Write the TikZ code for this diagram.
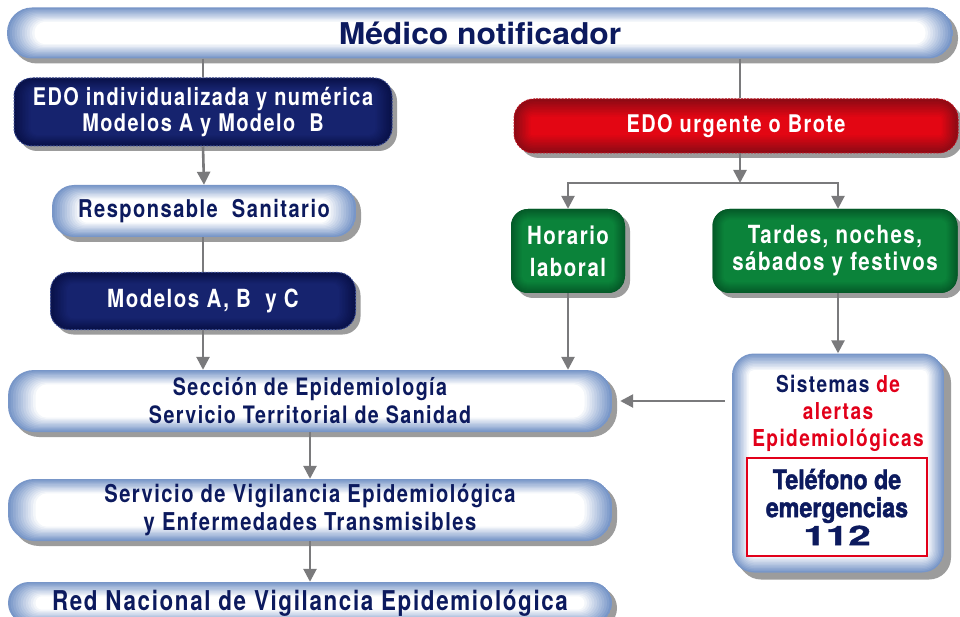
\documentclass[tikz,border=0pt]{standalone}
\usepackage{fontspec}
\usepackage{xcolor}
\setmainfont{TeX Gyre Heros}[FakeStretch=0.82,LetterSpace=6]
\newfontfamily\titlefont{TeX Gyre Heros}[FakeStretch=1.06]
\newfontfamily\heavyfont{TeX Gyre Heros}[FakeStretch=0.86,BoldFeatures={FakeBold=1.6}]
\newfontfamily\widefont{TeX Gyre Heros}[FakeStretch=1.5,BoldFeatures={FakeBold=1.2}]
\usetikzlibrary{arrows.meta,shadows}

\definecolor{navytext}{HTML}{0C1A5E}
\definecolor{navyout}{HTML}{091149}
\definecolor{navyin}{HTML}{16236E}
\definecolor{navyline}{HTML}{3B4C92}
\definecolor{redout}{HTML}{8E0A14}
\definecolor{redin}{HTML}{E30613}
\definecolor{redline}{HTML}{B8101E}
\definecolor{greenout}{HTML}{045A28}
\definecolor{greenin}{HTML}{0B833A}
\definecolor{paleblue}{HTML}{7896C8}
\definecolor{arrowgray}{HTML}{7A7A7C}
\definecolor{shadowgray}{HTML}{9C9C9C}
\definecolor{alertred}{HTML}{E2001A}

\newcommand\sz[2]{\fontsize{#1}{#2}\selectfont}

\tikzset{
  banded/.style n args={5}{path picture={
      \foreach \k in {0,...,11}{
        \pgfmathsetmacro\m{100-\k*100/11}
        \pgfmathsetmacro\r{max(#3-\k*#5,1)}
        \fill[#1!\m!#2, rounded corners=\r pt]
          ([shift={(\k*#4pt,\k*#5pt)}]path picture bounding box.south west) rectangle
          ([shift={(-\k*#4pt,-\k*#5pt)}]path picture bounding box.north east);
      }}},
  boxbase/.style={rectangle, align=center, inner sep=0pt,
    drop shadow={shadow xshift=5pt, shadow yshift=-5pt, opacity=1, fill=shadowgray}},
  palebox/.style={boxbase, rounded corners=#1, text=navytext,
    banded={paleblue}{white}{#1}{2.5}{1.3}},
  navybox/.style={boxbase, rounded corners=18pt, text=white, fill=navyout,
    draw=navyline, line width=1pt, dash pattern=on 2pt off 1.2pt,
    banded={navyout}{navyin}{18}{1.5}{1}},
  redbox/.style={boxbase, rounded corners=20pt, text=white, fill=redout,
    draw=redline, line width=1pt, dash pattern=on 2pt off 1.2pt,
    banded={redout}{redin}{20}{1.5}{1.6}},
  greenbox/.style={boxbase, rounded corners=17pt, text=white, fill=greenout,
    banded={greenout}{greenin}{17}{1}{1}},
  arr/.style={draw=arrowgray, line width=2.6pt, -{Triangle[width=13pt,length=13pt]}},
  link/.style={draw=arrowgray, line width=2.6pt}
}

\begin{document}
\begin{tikzpicture}[x=1pt,y=-1pt]
\useasboundingbox[fill=white] (0,0) rectangle (960,617);

\node[palebox=25pt, minimum width=946, minimum height=51,
  font=\titlefont\bfseries\sz{30}{32}] (medico) at (480,33) {Médico notificador};

\node[navybox, minimum width=378, minimum height=68, font=\bfseries\sz{24.3}{26}]
  (edoind) at (203,112) {EDO individualizada y numérica\\ Modelos A y Modelo~ B};
\node[palebox=22pt, minimum width=304, minimum height=52, font=\bfseries\sz{24.5}{26}]
  (resp) at (204,211) {Responsable~ Sanitario};
\node[navybox, minimum width=305, minimum height=57, font=\bfseries\sz{25}{27}]
  (modelos) at (203,301) {Modelos A, B~ y C};
\node[palebox=26pt, minimum width=604, minimum height=62, font=\bfseries\sz{24}{28}]
  (seccion) at (310,401) {Sección de Epidemiología\\ Servicio Territorial de Sanidad};
\node[palebox=26pt, minimum width=604, minimum height=62, font=\bfseries\sz{24.6}{28}]
  (servicio) at (310,510) {Servicio de Vigilancia Epidemiológica\\ y Enfermedades Transmisibles};
\node[palebox=21pt, minimum width=604, minimum height=42, font=\bfseries\sz{27.3}{29}]
  (renave) at (310,603) {Red Nacional de Vigilancia Epidemiológica};

\node[redbox, minimum width=444, minimum height=54, font=\bfseries\sz{24.3}{26}]
  (urgente) at (736,126) {EDO urgente o Brote};
\node[greenbox, minimum width=114, minimum height=84, font=\bfseries\sz{25}{32}]
  (horario) at (568,251) {Horario\\ laboral};
\node[greenbox, minimum width=245, minimum height=84, font=\bfseries\sz{25}{27}]
  (tardes) at (835,251) {Tardes, noches,\\ sábados y festivos};

\node[palebox=22pt, minimum width=212, minimum height=219,
  banded={paleblue}{white}{22}{1.5}{1.5},
  drop shadow={shadow xshift=7pt, shadow yshift=-7pt, opacity=1, fill=shadowgray}] (sist) at (838,463) {};
\node[font=\bfseries\sz{23.3}{27}, align=center, text=alertred] (sisttxt) at (838,413)
  {\textcolor{navytext}{Sistemas} de\\ alertas\\ Epidemiológicas};
\node[draw=alertred, line width=2pt, fill=white, minimum width=180, minimum height=98,
  align=center, text=navytext, font=\heavyfont\bfseries\sz{27}{28}] (phone) at (837,507)
  {Teléfono de\\ emergencias\\ {\widefont\bfseries\sz{27}{29}112}};

\coordinate (split) at (740,183);

\draw[link] (edoind.north |- medico.south) -- (edoind.north);
\draw[link] (split |- medico.south) -- (split |- urgente.north);
\draw[arr] (edoind.south) -- (resp.north);
\draw[link] (modelos.north |- resp.south) -- (modelos.north);
\draw[arr] (modelos.south) -- (modelos.south |- seccion.north);
\draw[arr] (seccion.south) -- (servicio.north);
\draw[arr] (servicio.south) -- (renave.north);
\draw[arr] (split |- urgente.south) -- (split);
\draw[arr] (split) -| (horario.north);
\draw[arr] (split) -| ([xshift=3pt]tardes.north);
\draw[arr] (horario.south) -- (horario.south |- seccion.north);
\draw[arr] ([xshift=3pt]tardes.south) -- ([xshift=3pt]tardes.south |- sist.north);
\draw[arr, shorten <=7pt, shorten >=8pt] (sist.west |- seccion.east) -- (seccion.east);
\end{tikzpicture}
\end{document}
